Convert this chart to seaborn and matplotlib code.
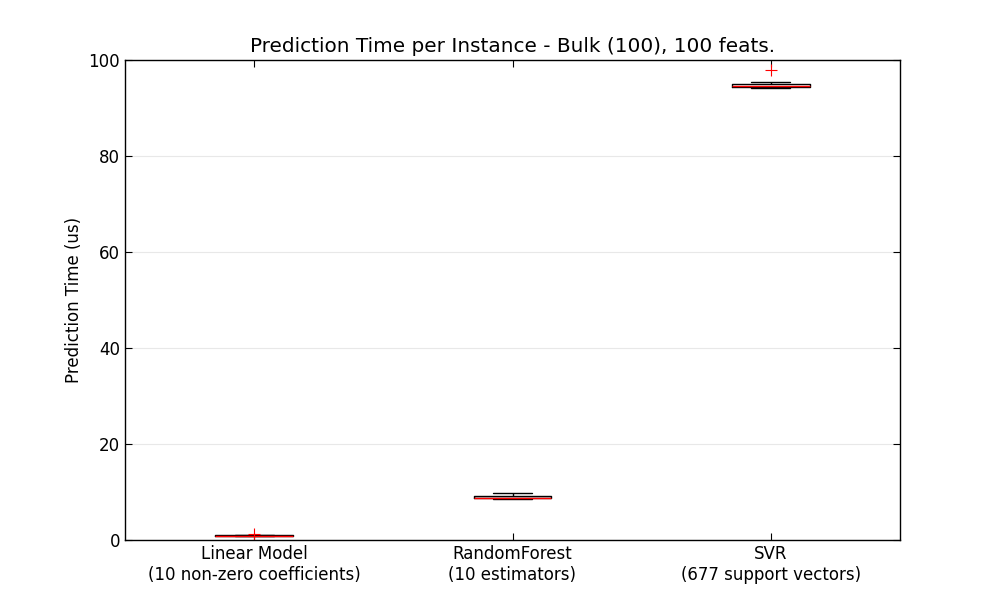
import matplotlib
matplotlib.use("Agg")
import matplotlib.pyplot as plt
import seaborn as sns
import pandas as pd

# Data (prediction times in microseconds)
categories = ["Linear Model\n(10 non-zero coefficients)",
              "RandomForest\n(10 estimators)",
              "SVR\n(677 support vectors)"]
linear_times = [0.75, 0.8, 0.82, 0.85, 0.88, 0.9, 0.92, 0.95, 0.98, 1.0, 1.3]
forest_times = [8.5, 8.6, 8.65, 8.7, 8.75, 8.8, 8.9, 9.1, 9.2, 9.4, 9.8]
svr_times = [94.2, 94.3, 94.35, 94.4, 94.5, 94.6, 94.7, 94.9, 95.1, 95.4, 97.9]

df = pd.DataFrame({
    "model": [categories[0]] * len(linear_times) + [categories[1]] * len(forest_times) + [categories[2]] * len(svr_times),
    "time": linear_times + forest_times + svr_times,
})

sns.set_style("white")
plt.rcParams["font.family"] = ["DejaVu Sans"]
plt.rcParams["text.color"] = "black"
plt.rcParams["axes.labelcolor"] = "black"
plt.rcParams["xtick.color"] = "black"
plt.rcParams["ytick.color"] = "black"

fig, ax = plt.subplots(figsize=(10, 6), dpi=100)
fig.subplots_adjust(left=0.125, right=0.9, bottom=0.1, top=0.9)

sns.boxplot(data=df, x="model", y="time", order=categories, ax=ax,
            width=0.3, whis=1.5, fill=False, color="black", linewidth=1,
            medianprops=dict(color="red", linewidth=1),
            flierprops=dict(marker="+", markeredgecolor="red",
                            markersize=8, markeredgewidth=0.8))

ax.set_ylim(0, 100)
ax.set_xlim(-0.5, 2.5)
ax.set_yticks([0, 20, 40, 60, 80, 100])
ax.yaxis.grid(True, linestyle="-", color="lightgrey", alpha=0.5)
ax.set_axisbelow(True)
ax.set_xlabel("")
ax.set_ylabel("Prediction Time (us)", fontsize=12)
ax.set_title("Prediction Time per Instance - Bulk (100), 100 feats.", fontsize=14.4)
ax.tick_params(direction="in", top=True, right=True, bottom=True, left=True,
               length=5, width=0.8, labelsize=12, colors="black")
for s in ax.spines.values():
    s.set_visible(True)
    s.set_color("black")
    s.set_linewidth(1)

fig.savefig("out.png", dpi=100)
